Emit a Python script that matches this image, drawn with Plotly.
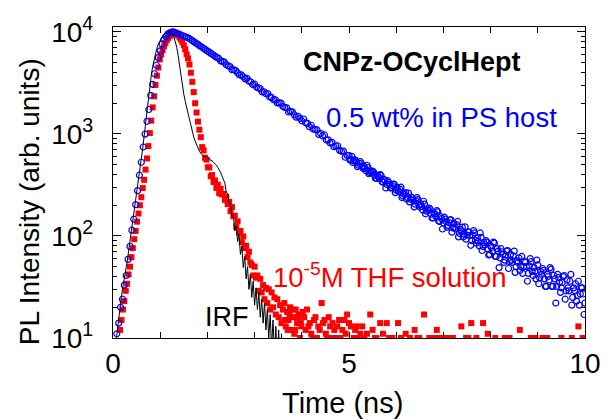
import plotly.graph_objects as go

# ---------------- data ----------------
# 0.5 wt% in PS host (blue open circles), TCSPC channels
blue_t0, blue_dt = 0.08, 0.04
blue_counts = [
    11, 14, 20, 24, 33, 41, 59, 79, 114, 146,
    203, 278, 394, 528, 745, 996, 1330, 1735, 2390, 3060,
    3890, 4710, 5590, 6520, 7590, 8410, 8990, 9510, 9790, 9960,
    10010, 9830, 9650, 9500, 9320, 9170, 9000, 8860, 8700, 8470,
    8210, 7990, 7730, 7540, 7300, 7110, 6890, 6710, 6490, 6330,
    6130, 5970, 5780, 5630, 5491, 5199, 5139, 5057, 4771, 4651,
    4575, 4264, 4254, 4174, 3959, 3780, 3785, 3633, 3468, 3511,
    3291, 3228, 3046, 3072, 2882, 2824, 2779, 2580, 2591, 2477,
    2489, 2298, 2279, 2166, 2159, 2015, 2015, 2002, 1858, 1818,
    1804, 1642, 1667, 1648, 1542, 1459, 1491, 1423, 1345, 1400,
    1285, 1270, 1178, 1217, 1120, 1105, 1097, 989, 1011, 955,
    977, 872, 874, 818, 826, 750, 762, 766, 690, 676,
    679, 591, 616, 614, 563, 526, 558, 528, 494, 537,
    479, 481, 435, 469, 418, 419, 423, 368, 393, 368,
    392, 336, 347, 320, 335, 295, 311, 321, 281, 279,
    288, 238, 261, 266, 237, 216, 241, 225, 205, 238,
    202, 206, 180, 205, 175, 178, 183, 150, 168, 155,
    172, 139, 148, 134, 146, 122, 135, 144, 120, 121,
    129, 98, 116, 122, 104, 93, 110, 101, 90, 113,
    91, 96, 80, 97, 79, 82, 87, 65, 80, 71,
    85, 63, 71, 61, 70, 55, 65, 72, 56, 58,
    64, 44, 57, 61, 50, 43, 56, 50, 43, 60,
    45, 49, 38, 52, 39, 42, 46, 32, 42, 37,
    47, 32, 38, 32, 39, 28, 35, 41, 29, 31,
    36, 21, 31, 34, 26, 21, 31, 27, 22,
]
# interleaved channels of the same decay (noisy tail, 5.02 ns onwards)
blue2_t0, blue2_dt = 5.02, 0.04
blue2_counts = [
    555, 602, 543, 551, 478, 515, 519, 460, 460, 493,
    407, 432, 433, 391, 366, 384, 400, 340, 359, 296,
    348, 321, 299, 322, 266, 299, 271, 301, 247, 254,
    229, 263, 229, 237, 193, 221, 227, 192, 194, 219,
    165, 185, 188, 164, 150, 164, 177, 140, 155, 117,
    153, 138, 127, 144, 109, 133, 117, 139, 106, 112,
    98, 123, 102, 109, 81, 102, 107, 85, 89, 107,
    72, 86, 90, 75, 66, 77, 87, 63, 75, 49,
    75, 66, 58, 71, 48, 66, 55, 71, 50, 55,
    46, 63, 50, 55, 36, 51, 56, 41, 45, 58,
    34, 45, 48, 38, 32, 40, 49, 32, 41, 22,
    42, 35, 31, 40, 24, 37, 29, 42, 25, 29,
    23, 36, 27, 31, 17,
]

# 10^-5 M THF solution (red squares)
red_t0, red_dt = 0.15, 0.03
red_counts = [
    12, 15, 19, 23, 29, 34, 42, 50, 62, 76,
    93, 112, 138, 166, 200, 240, 295, 355, 447, 575,
    760, 1020, 1350, 1820, 2340, 3020, 3720, 4470, 5370, 6030,
    6610, 7240, 7760, 8320, 8710, 9120, 9440, 9660, 9770, 9660,
    9440, 9230, 8810, 8410, 7940, 7410, 6760, 6030, 5500, 4790,
    3980, 3240, 2570, 2000, 1620, 1320, 1100, 930, 742, 690,
    584, 560, 471, 470, 385, 395, 338, 350, 296, 318,
    262, 290, 255, 258, 226, 240, 205, 216, 175, 192,
    156, 158, 124, 139, 108, 112, 87, 99, 76, 80,
    62, 70, 55, 52, 41, 50, 39, 41, 29, 38,
    28, 33, 24, 31, 22, 30, 19, 28, 20, 25,
    17, 24, 16, 21, 14, 19,
]
red_tail_t = [
    3.63, 3.66, 3.69, 3.72, 3.75, 3.78, 3.81, 3.84, 3.87, 3.90,
    3.93, 3.96, 3.99, 4.05, 4.08, 4.11, 4.17, 4.20, 4.26, 4.32,
    4.35, 4.42, 4.48, 4.54, 4.60, 4.65, 4.72, 4.75, 4.82, 4.90,
    4.96, 5.04, 5.10, 5.16, 5.24, 5.32, 5.45, 5.55, 5.66, 5.80,
    5.85, 6.04, 6.10, 6.39, 6.45, 6.59, 6.70, 6.86, 6.95, 7.20,
    7.38, 7.48, 7.59, 7.70, 7.84, 7.94, 8.10, 8.40, 8.62, 8.85,
    9.20, 9.50, 9.86, 9.95,
    4.23, 4.63, 5.20, 5.58, 5.92, 6.29, 6.49, 6.77, 7.04, 7.12,
    7.53, 8.30, 8.95, 9.10, 9.72,
    3.64, 3.70, 3.74, 3.80, 3.86, 3.92, 3.98, 4.02, 4.14, 4.29,
    4.38, 4.45, 4.51, 4.57, 4.69, 4.79, 4.86, 4.93, 5.00, 5.13,
    5.28, 5.38, 5.50, 5.72, 6.20, 6.85,
]
red_tail_counts = [
    22, 13, 18, 15, 20, 12, 16, 11, 19, 14,
    17, 10, 13, 16, 12, 19, 14, 11, 15, 10,
    13, 22, 15, 10, 13, 14, 10, 13, 10, 15,
    17, 13, 10, 13, 11, 10, 17, 10, 14, 14,
    10, 14, 10, 12, 10, 17, 10, 12, 10, 10,
    13, 10, 14, 10, 14, 11, 10, 10, 12, 10,
    10, 10, 13, 10,
    10, 10, 10, 10, 10, 10, 10, 10, 10, 10,
    10, 10, 10, 10, 10,
    15, 12, 17, 19, 12, 16, 14, 18, 13, 16,
    12, 14, 11, 16, 12, 15, 12, 11, 14, 12,
    13, 11, 12, 11, 11, 10,
]

# Instrument response function (black line)
irf_t0, irf_dt = 0.06, 0.03
irf_counts = [
    9, 12, 16, 20, 26, 32, 38, 46, 56, 71,
    89, 112, 141, 174, 214, 269, 339, 437, 562, 724,
    955, 1288, 1738, 2291, 2951, 3715, 4571, 5370, 6166, 6918,
    7586, 8128, 8710, 9120, 9441, 9661, 9886, 10000, 9886, 9661,
    9333, 8913, 8128, 7079, 5888, 4677, 3631, 2951, 2455, 2089,
    1820, 1585, 1349, 1175, 1047, 933, 851, 776, 716, 676,
    646, 625, 604, 600, 592, 570, 575, 550, 548, 525,
    515, 496, 470, 445, 420, 385, 358, 330, 268, 262,
    210, 205, 156, 160, 112, 126, 88, 104, 66, 80,
    49, 63, 38, 50, 30, 42, 25, 36, 21, 31,
    19, 28, 16, 24, 14, 22, 12, 19, 10, 17,
    8, 15, 7, 13, 6, 12, 5, 11, 4, 10,
    3,
]

x_tickvals = [0, 1, 2, 3, 4, 5, 6, 7, 8, 9, 10]
x_ticktext = ["0", "", "", "", "", "5", "", "", "", "", "10"]
y_tickvals = [10, 100, 1000, 10000]
y_ticktext = ["10<sup>1</sup>", "10<sup>2</sup>", "10<sup>3</sup>", "10<sup>4</sup>"]

# ---------------- derived channel times ----------------
blue_t = [round(blue_t0 + blue_dt * i, 3) for i in range(len(blue_counts))]
blue2_t = [round(blue2_t0 + blue2_dt * i, 3) for i in range(len(blue2_counts))]
red_t = [round(red_t0 + red_dt * i, 3) for i in range(len(red_counts))]
irf_t = [round(irf_t0 + irf_dt * i, 3) for i in range(len(irf_counts))]
y_minor = [m * 10 ** e for e in (1, 2, 3) for m in range(2, 10)]

FONT = "Liberation Sans, Arial, Helvetica, sans-serif"

fig = go.Figure()
fig.add_trace(go.Scatter(
    x=red_t + red_tail_t, y=red_counts + red_tail_counts, mode="markers",
    marker=dict(symbol="square", size=6, color="#ff0000", line=dict(width=0)),
))
fig.add_trace(go.Scatter(
    x=blue_t + blue2_t, y=blue_counts + blue2_counts, mode="markers",
    marker=dict(symbol="circle-open", size=6, color="#0000ff",
                line=dict(width=1.2, color="#0000ff")),
))
fig.add_trace(go.Scatter(
    x=irf_t, y=irf_counts, mode="lines",
    line=dict(color="black", width=1),
))

fig.update_layout(
    width=613, height=420,
    margin=dict(l=113, r=16, t=23, b=82),
    plot_bgcolor="white", paper_bgcolor="white",
    showlegend=False,
    font=dict(family=FONT, color="black"),
)
fig.update_xaxes(
    range=[0, 10], tickmode="array", tickvals=x_tickvals, ticktext=x_ticktext,
    ticks="inside", ticklen=6, tickwidth=1.2, tickcolor="black",
    showline=True, linecolor="black", linewidth=1.3, mirror="ticks",
    showgrid=False, zeroline=False, tickfont=dict(size=28, family=FONT),
)
fig.update_yaxes(
    type="log", range=[1, 4.048], tickmode="array",
    tickvals=y_tickvals, ticktext=y_ticktext,
    ticks="inside", ticklen=8, tickwidth=1.2, tickcolor="black",
    showline=True, linecolor="black", linewidth=1.3, mirror="ticks",
    showgrid=False, zeroline=False, tickfont=dict(size=28, family=FONT),
    ticklabelstandoff=13,
    minor=dict(tickmode="array", tickvals=y_minor, ticks="inside", ticklen=4,
               tickwidth=1.1, tickcolor="black", showgrid=False),
)

ann = [
    dict(text="<b>CNPz-OCyclHept</b>", x=0.634, y=0.889, size=27, color="black",
         xanchor="center"),
    dict(text="0.5 wt% in PS host", x=0.696, y=0.708, size=27.5, color="#0000ff",
         xanchor="center"),
    dict(text="10<sup>-5</sup>M THF solution", x=0.335, y=0.2, size=27.5,
         color="#ff0000", xanchor="left"),
    dict(text="IRF", x=0.242, y=0.067, size=27, color="black", xanchor="center"),
]
for a in ann:
    fig.add_annotation(text=a["text"], x=a["x"], y=a["y"], xref="paper", yref="paper",
                       xanchor=a["xanchor"], yanchor="middle", showarrow=False,
                       font=dict(size=a["size"], color=a["color"], family=FONT))

fig.add_annotation(text="Time (ns)", x=0.486, y=-0.268, xref="paper", yref="paper",
                   xanchor="center", yanchor="bottom", showarrow=False,
                   font=dict(size=29, family=FONT, color="black"))
fig.add_annotation(text="PL Intensity (arb. units)", x=-0.178, y=0.44, xref="paper",
                   yref="paper", xanchor="center", yanchor="middle", showarrow=False,
                   textangle=-90, font=dict(size=28, family=FONT, color="black"))

fig.write_html("out.html")
